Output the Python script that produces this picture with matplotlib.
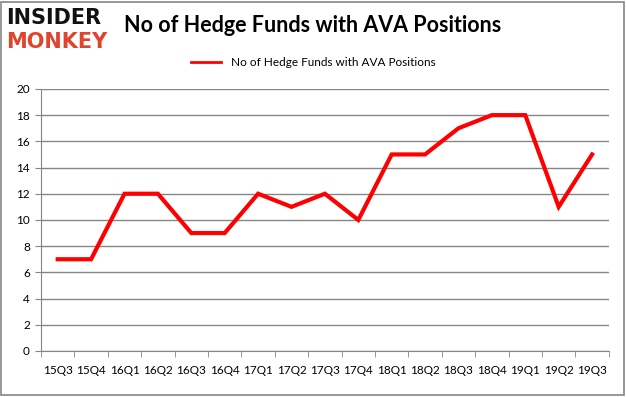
import matplotlib
matplotlib.use("Agg")
import matplotlib.pyplot as plt
from matplotlib.lines import Line2D
from matplotlib.patches import Rectangle

quarters = ["15Q3", "15Q4", "16Q1", "16Q2", "16Q3", "16Q4", "17Q1", "17Q2", "17Q3",
            "17Q4", "18Q1", "18Q2", "18Q3", "18Q4", "19Q1", "19Q2", "19Q3"]
funds = [7, 7, 12, 12, 9, 9, 12, 11, 12, 10, 15, 15, 17, 18, 18, 11, 15]
yticks = [0, 2, 4, 6, 8, 10, 12, 14, 16, 18, 20]

plt.rcParams["font.family"] = ["Lato", "DejaVu Sans"]
grey = "#868686"

fig = plt.figure(figsize=(6.26, 3.97), dpi=100)
fig.patches.append(Rectangle((0.002, 0.004), 0.995, 0.992, transform=fig.transFigure,
                             fill=False, edgecolor=grey, linewidth=1.2))

ax = fig.add_axes([0.0655, 0.116, 0.907, 0.660])
ax.plot(range(len(funds)), funds, color="#ff0000", linewidth=3, solid_joinstyle="miter")
ax.set_xlim(-0.5, len(quarters) - 0.5)
ax.set_ylim(0, 20)
ax.set_yticks(yticks)
ax.set_xticks(range(len(quarters)))
ax.set_xticklabels(quarters)
ax.set_xticks([i - 0.5 for i in range(len(quarters) + 1)], minor=True)
ax.tick_params(axis="x", which="major", length=0, pad=10, labelsize=8.5)
ax.tick_params(axis="x", which="minor", length=4, color=grey)
ax.tick_params(axis="y", length=4, color=grey, labelsize=8.5, pad=4)
ax.grid(axis="y", color=grey, linewidth=1)
ax.set_axisbelow(True)
for s in ["top", "right"]:
    ax.spines[s].set_visible(False)
for s in ["left", "bottom"]:
    ax.spines[s].set_color(grey)

fig.text(0.5, 0.935, "No of Hedge Funds with AVA Positions", ha="center", va="center",
         fontsize=15.5, fontweight="bold")
handle = Line2D([], [], color="#ff0000", linewidth=2)
fig.legend([handle], ["No of Hedge Funds with AVA Positions"], loc="center",
           bbox_to_anchor=(0.5, 0.843), frameon=False, fontsize=8.5, handlelength=2.6)

fig.text(0.009, 0.955, "INSIDER", fontsize=15, fontweight="bold", color="#111111",
         va="center", ha="left", family="DejaVu Sans")
fig.text(0.009, 0.895, "MONKEY", fontsize=15, fontweight="bold", color="#e0442c",
         va="center", ha="left", family="DejaVu Sans")

fig.savefig("out.png", dpi=100)
